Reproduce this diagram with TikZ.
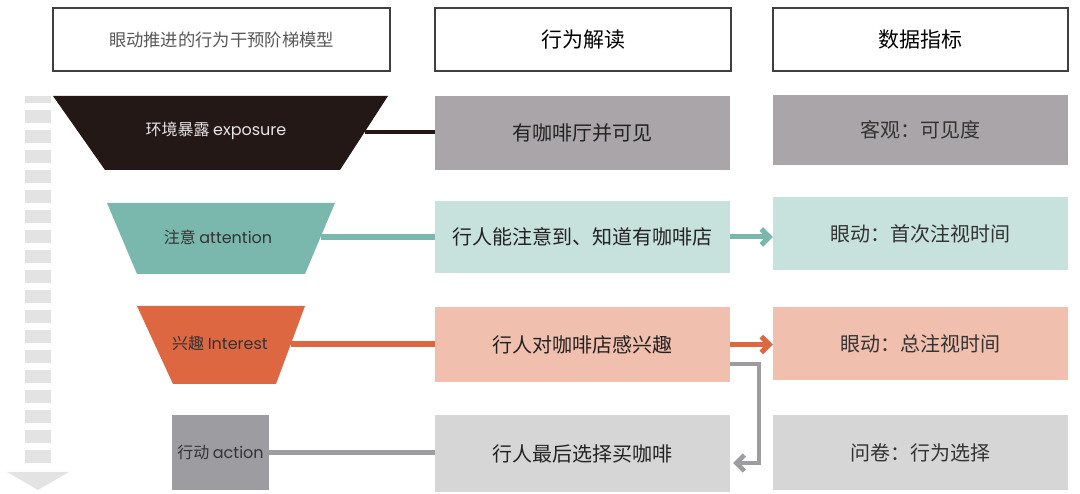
\documentclass[tikz,border=0pt]{standalone}
\usepackage{fontspec}
\setmainfont{Noto Sans CJK SC}
\newfontfamily\lat{Poppins}
\usetikzlibrary{arrows.meta}
\definecolor{cdark}{HTML}{231815}
\definecolor{cgrayA}{HTML}{A9A5A8}
\definecolor{cteal}{HTML}{7AB8AD}
\definecolor{ctealL}{HTML}{C7E1DC}
\definecolor{corange}{HTML}{DC6741}
\definecolor{corangeL}{HTML}{F0BFAE}
\definecolor{cgrayB}{HTML}{9D9CA1}
\definecolor{cgrayL}{HTML}{D6D6D6}
\definecolor{cdash}{HTML}{E3E3E3}
\definecolor{ctext}{HTML}{222222}
\tikzset{
  hbox/.style={draw=black!75, line width=1.3pt, fill=white, minimum height=63pt, inner sep=0pt},
  cell/.style={inner sep=0pt, text=ctext, font=\fontsize{20}{24}\selectfont},
  stagetxt/.style={inner sep=0pt, font=\fontsize{16}{19}\selectfont},
  link/.style={line width=5.5pt},
  barb/.style={line width=5pt, -{Straight Barb[length=8pt,width=16pt]}}
}
\begin{document}
\begin{tikzpicture}[x=1pt,y=-1pt]
\useasboundingbox (0,0) rectangle (1080,494);
% headers
\node[hbox, minimum width=337pt, text=black!65, font=\fontsize{17.3}{20}\selectfont] (h1) at (221.5,39.5) {眼动推进的行为干预阶梯模型};
\node[hbox, minimum width=296pt, font=\fontsize{21}{25}\selectfont] (h2) at (583,39.5) {行为解读};
\node[hbox, minimum width=295pt, font=\fontsize{21}{25}\selectfont] (h3) at (920.5,39.5) {数据指标};
% dashed down arrow
\fill[cdash] (25,96) rectangle (51,103);
\foreach \k in {0,...,17}{\fill[cdash] (25,110+20*\k) rectangle (51,123+20*\k);}
\fill[cdash] (7,472) -- (69,472) -- (38,490) -- cycle;
% stages
\fill[cdark] (53,96) -- (388,96) -- (340,170) -- (105,170) -- cycle;
\node[stagetxt, text=white!90!black] (s1) at (216,131) {环境暴露 {\lat exposure}};
\fill[cteal] (107,203) -- (335,203) -- (305,274) -- (137,274) -- cycle;
\node[stagetxt, text=black!80] (s2) at (218,237) {注意 {\lat attention}};
\fill[corange] (137,306) -- (305,306) -- (276,384) -- (173,384) -- cycle;
\node[stagetxt, text=black!80] (s3) at (220,343) {兴趣 {\lat Interest}};
\node[stagetxt, fill=cgrayB, text=black!80, minimum width=97pt, minimum height=75pt] (s4) at (220.5,452.5) {行动 {\lat action}};
% middle column
\node[cell, fill=cgrayA, minimum width=295pt, minimum height=74pt] (m1) at (582.5,133) {有咖啡厅并可见};
\node[cell, fill=ctealL, minimum width=295pt, minimum height=72pt] (m2) at (582.5,237) {行人能注意到、知道有咖啡店};
\node[cell, fill=corangeL, minimum width=295pt, minimum height=75pt] (m3) at (582.5,344.5) {行人对咖啡店感兴趣};
\node[cell, fill=cgrayL, minimum width=295pt, minimum height=77pt] (m4) at (582.5,453.5) {行人最后选择买咖啡};
% right column
\node[cell, fill=cgrayA, minimum width=295pt, minimum height=70pt, text=black!80] (r1) at (920.5,130) {客观：可见度};
\node[cell, fill=ctealL, minimum width=295pt, minimum height=73pt, text=black!80] (r2) at (920.5,233.5) {眼动：首次注视时间};
\node[cell, fill=corangeL, minimum width=295pt, minimum height=73pt, text=black!80] (r3) at (920.5,343.5) {眼动：总注视时间};
\node[cell, fill=cgrayL, minimum width=295pt, minimum height=75pt, text=black!80] (r4) at (920.5,452.5) {问卷：行为选择};
% connectors
\coordinate (e1) at (365,132);
\coordinate (e2) at (321,237);
\coordinate (e3) at (291,344);
\draw[link, cdark, line width=4.5pt] (e1) -- (e1 -| m1.west);
\draw[link, cteal] (e2) -- (e2 -| m2.west);
\draw[link, corange] (e3) -- (e3 -| m3.west);
\draw[link, cgrayB] (s4.east) -- (s4.east -| m4.west);
\draw[barb, cteal] (m2.east) -- (m2.east -| r2.west);
\draw[barb, corange] (m3.east) -- (m3.east -| r3.west);
\coordinate (k1) at (759,364);
\coordinate (k2) at (759,463);
\draw[barb, cgrayB, line width=4.5pt] (m3.east |- k1) -- (k1) -- (k2) -- ([xshift=3pt]m4.east |- k2);
\end{tikzpicture}
\end{document}
